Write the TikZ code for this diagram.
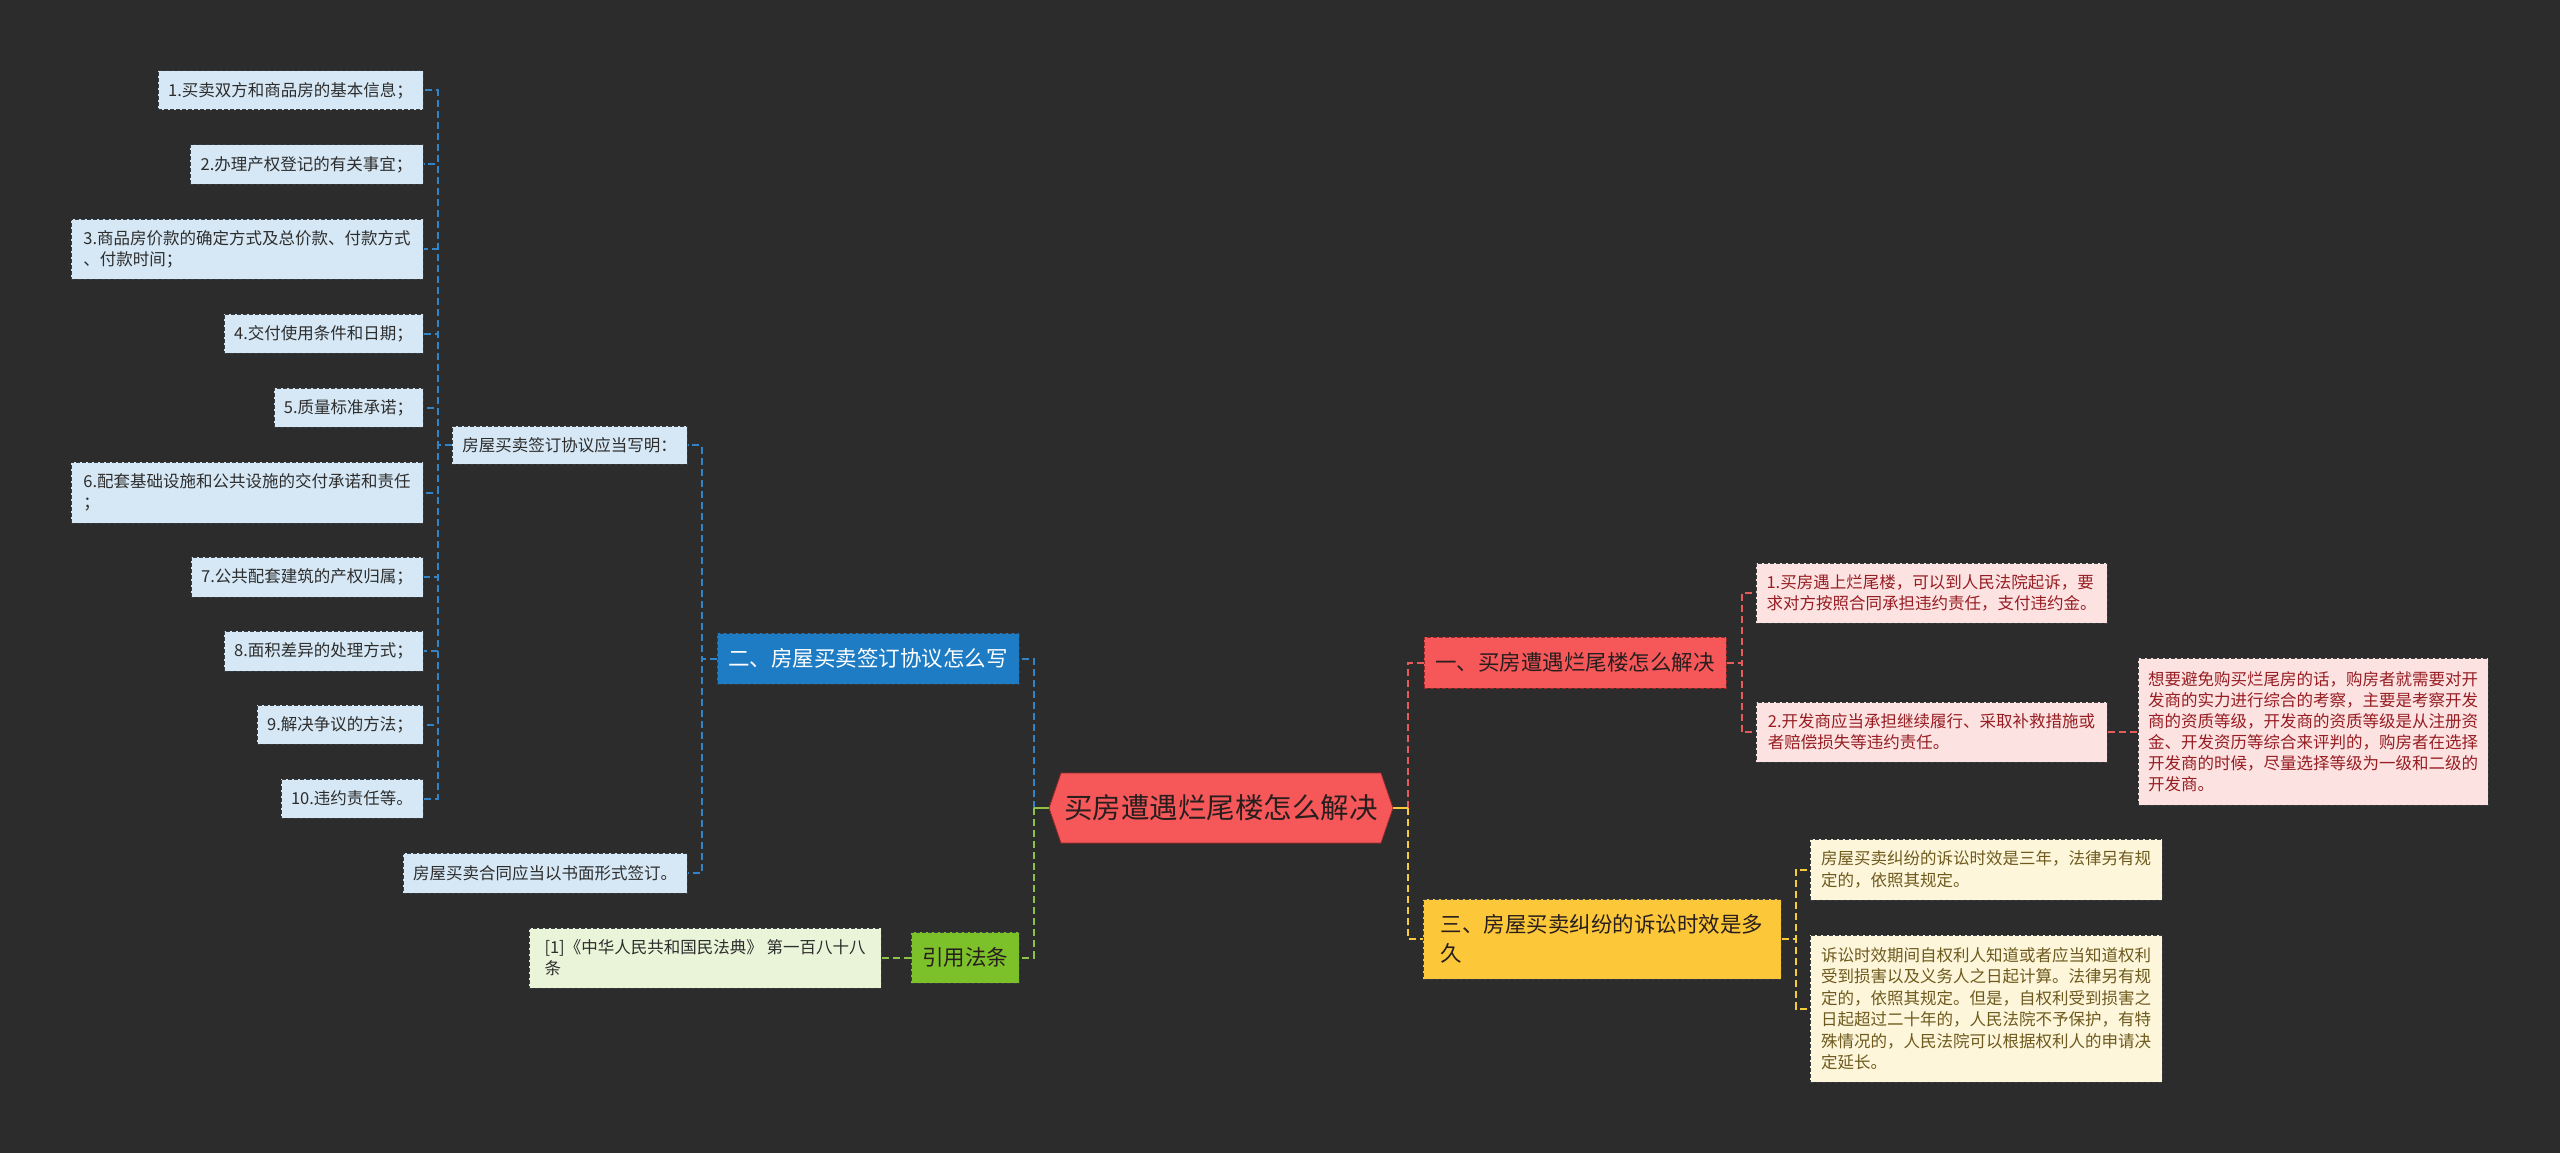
\documentclass[tikz,border=0pt]{standalone}
\usepackage{fontspec}
\setmainfont{Noto Sans CJK SC}
\definecolor{bgc}{RGB}{44,44,44}
\definecolor{cblue}{RGB}{50,132,198}
\definecolor{bluemain}{RGB}{30,124,196}
\definecolor{leafblue}{RGB}{214,232,245}
\definecolor{leafbd}{RGB}{55,60,65}
\definecolor{leaftxt}{RGB}{45,45,45}
\definecolor{redmain}{RGB}{246,88,90}
\definecolor{reddark}{RGB}{150,40,40}
\definecolor{redleaf}{RGB}{253,226,226}
\definecolor{redtxt}{RGB}{150,30,35}
\definecolor{cred}{RGB}{230,92,92}
\definecolor{yelmain}{RGB}{252,200,58}
\definecolor{yelleaf}{RGB}{253,246,218}
\definecolor{yeltxt}{RGB}{110,90,30}
\definecolor{cyel}{RGB}{245,205,60}
\definecolor{grnmain}{RGB}{125,193,42}
\definecolor{grnleaf}{RGB}{234,244,216}
\definecolor{cgrn}{RGB}{140,195,70}
\definecolor{darktxt}{RGB}{40,30,30}
\begin{document}
\begin{tikzpicture}[x=1pt,y=-1pt,
  box/.style={rectangle, dashed, dash pattern=on 4pt off 2pt, line width=1pt, inner xsep=8pt, inner ysep=3pt, align=left},
  leafb/.style={box, fill=leafblue, draw=leafbd, text=leaftxt, font=\fontsize{16.5pt}{21pt}\selectfont},
  leafr/.style={box, fill=redleaf, draw=leafbd, text=redtxt, font=\fontsize{16.5pt}{21pt}\selectfont},
  leafy/.style={box, fill=yelleaf, draw=leafbd, text=yeltxt, font=\fontsize{16.5pt}{21.5pt}\selectfont},
  leafg/.style={box, fill=grnleaf, draw=leafbd, text=leaftxt, font=\fontsize{16.5pt}{21pt}\selectfont},
  mainbox/.style={box, font=\fontsize{21.5pt}{29pt}\selectfont, inner xsep=10pt},
  conn/.style={dashed, dash pattern=on 7pt off 4pt, line width=2pt},
  solidconn/.style={line width=2.4pt},
]
\fill[bgc] (0,0) rectangle (2560,1153);
\useasboundingbox (0,0) rectangle (2560,1153);

% root hexagon
\fill[redmain, draw=reddark, line width=0.8pt] (1049,808) -- (1061,773) -- (1381,773) -- (1393,808) -- (1381,843) -- (1061,843) -- cycle;
\node[minimum width=344pt, minimum height=70pt, inner sep=0pt, text=darktxt, font=\fontsize{28.5pt}{34pt}\selectfont] (root) at (1221,808) {买房遭遇烂尾楼怎么解决};

% main branches
\node[mainbox, fill=bluemain, draw=leafbd, text=white, minimum width=302pt, minimum height=51pt] (two) at (868,658.5) {二、房屋买卖签订协议怎么写};
\node[mainbox, fill=redmain, draw=reddark, text=darktxt, minimum width=302pt, minimum height=51pt] (one) at (1575,662.5) {一、买房遭遇烂尾楼怎么解决};
\node[mainbox, fill=yelmain, draw=leafbd, text=darktxt, minimum width=358pt, minimum height=80pt] (three) at (1602,939) {三、房屋买卖纠纷的诉讼时效是多\\久};
\node[mainbox, fill=grnmain, draw=leafbd, text=darktxt, minimum width=108pt, minimum height=51pt] (law) at (965,957.5) {引用法条};

% blue sub nodes
\node[leafb, minimum width=235pt, minimum height=38pt] (w) at (569.5,445) {房屋买卖签订协议应当写明：};
\node[leafb, minimum width=284pt, minimum height=40pt] (h) at (545,873) {房屋买卖合同应当以书面形式签订。};

\node[leafb, minimum width=265pt, minimum height=39pt] (l1) at (290.5,90.5) {1.买卖双方和商品房的基本信息；};
\node[leafb, minimum width=233pt, minimum height=39pt] (l2) at (306.5,164.5) {2.办理产权登记的有关事宜；};
\node[leafb, minimum width=352pt, minimum height=60pt] (l3) at (247,249) {3.商品房价款的确定方式及总价款、付款方式\\、付款时间；};
\node[leafb, minimum width=199pt, minimum height=39pt] (l4) at (323.5,333.5) {4.交付使用条件和日期；};
\node[leafb, minimum width=149pt, minimum height=39pt] (l5) at (348.5,407.5) {5.质量标准承诺；};
\node[leafb, minimum width=352pt, minimum height=61pt] (l6) at (247,492.5) {6.配套基础设施和公共设施的交付承诺和责任\\；};
\node[leafb, minimum width=232pt, minimum height=40pt] (l7) at (307,577) {7.公共配套建筑的产权归属；};
\node[leafb, minimum width=199pt, minimum height=40pt] (l8) at (323.5,651) {8.面积差异的处理方式；};
\node[leafb, minimum width=166pt, minimum height=39pt] (l9) at (340,724.5) {9.解决争议的方法；};
\node[leafb, minimum width=142pt, minimum height=39pt] (l10) at (352,798.5) {10.违约责任等。};

% red sub nodes
\node[leafr, minimum width=351pt, minimum height=60pt] (r1) at (1931.5,593) {1.买房遇上烂尾楼，可以到人民法院起诉，要\\求对方按照合同承担违约责任，支付违约金。};
\node[leafr, minimum width=351pt, minimum height=60pt] (r2) at (1931.5,732) {2.开发商应当承担继续履行、采取补救措施或\\者赔偿损失等违约责任。};
\node[leafr, minimum width=350pt, minimum height=147pt] (avoid) at (2313,731.5) {想要避免购买烂尾房的话，购房者就需要对开\\发商的实力进行综合的考察，主要是考察开发\\商的资质等级，开发商的资质等级是从注册资\\金、开发资历等综合来评判的，购房者在选择\\开发商的时候，尽量选择等级为一级和二级的\\开发商。};

% yellow sub nodes
\node[leafy, minimum width=352pt, minimum height=61pt] (y1) at (1986,869.5) {房屋买卖纠纷的诉讼时效是三年，法律另有规\\定的，依照其规定。};
\node[leafy, minimum width=352pt, minimum height=147pt] (y2) at (1986,1008.5) {诉讼时效期间自权利人知道或者应当知道权利\\受到损害以及义务人之日起计算。法律另有规\\定的，依照其规定。但是，自权利受到损害之\\日起超过二十年的，人民法院不予保护，有特\\殊情况的，人民法院可以根据权利人的申请决\\定延长。};

% green sub node
\node[leafg, minimum width=352pt, minimum height=60pt] (cite) at (705,958) {[1]《中华人民共和国民法典》 第一百八十八\\条};

% connectors
\draw[conn, cblue] ([xshift=-15pt]root.west) |- (two.east);
\draw[conn, cgrn] ([xshift=-15pt]root.west) |- (law.east);
\draw[solidconn, cgrn] (root.west) -- ++(-15,0);
\draw[conn, cred] ([xshift=15pt]root.east) |- (one.west);
\draw[conn, cyel] ([xshift=15pt]root.east) |- (three.west);
\draw[solidconn, cyel] (root.east) -- ++(15,0);

\draw[conn, cblue] (two.west) -- ++(-15,0) |- (w.east);
\draw[conn, cblue] (two.west) -- ++(-15,0) |- (h.east);
\foreach \i in {1,...,10} {
  \draw[conn, cblue] (w.west) -- ++(-14,0) |- (l\i.east);
}

\draw[conn, cred] (one.east) -- ++(15,0) |- (r1.west);
\draw[conn, cred] (one.east) -- ++(15,0) |- (r2.west);
\draw[conn, cred] (r2.east) -- (r2.east -| avoid.west);

\draw[conn, cyel] (three.east) -- ++(14,0) |- (y1.west);
\draw[conn, cyel] (three.east) -- ++(14,0) |- (y2.west);

\draw[conn, cgrn] (law.west) -- (law.west -| cite.east);
\end{tikzpicture}
\end{document}
